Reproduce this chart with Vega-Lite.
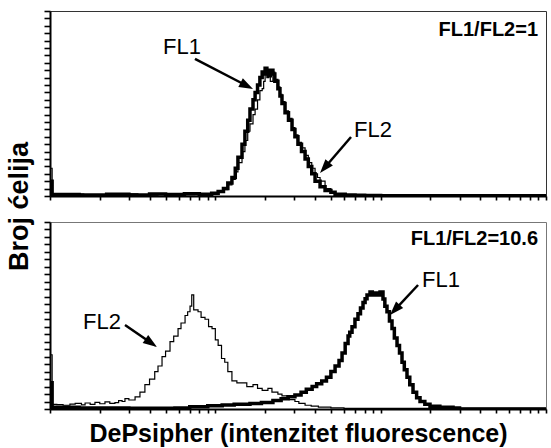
{
  "$schema": "https://vega.github.io/schema/vega-lite/v6.json",
  "padding": {"left": 5, "top": 9, "right": 0, "bottom": 0},
  "background": "white",
  "title": {"text": "Broj ćelija", "orient": "left", "anchor": "middle", "font": "Liberation Sans", "fontSize": 27, "fontWeight": "bold", "color": "black", "offset": 9, "dx": 22},
  "spacing": 18,
  "config": {
    "font": "Liberation Sans",
    "view": {"stroke": "#333", "strokeWidth": 1},
    "axis": {"labels": false, "grid": false, "domainColor": "black", "domainWidth": 2, "tickColor": "black", "tickWidth": 1.6, "titleColor": "black", "tickCount": 100}
  },
  "datasets": {
    "hist": [
      {"p":"top","s":"FL1","x":1.0,"n":8},{"p":"top","s":"FL1","x":1.03,"n":0.8},{"p":"top","s":"FL1","x":1.5,"n":0.5},{"p":"top","s":"FL1","x":2.2,"n":1.0},{"p":"top","s":"FL1","x":3,"n":0.6},{"p":"top","s":"FL1","x":4,"n":1.1},{"p":"top","s":"FL1","x":5,"n":0.8},{"p":"top","s":"FL1","x":6.5,"n":1.2},{"p":"top","s":"FL1","x":8,"n":0.9},{"p":"top","s":"FL1","x":9.5,"n":1.5},{"p":"top","s":"FL1","x":10.4,"n":2.5},{"p":"top","s":"FL1","x":11.2,"n":4},{"p":"top","s":"FL1","x":11.9,"n":7},{"p":"top","s":"FL1","x":12.6,"n":10},{"p":"top","s":"FL1","x":13.2,"n":15},{"p":"top","s":"FL1","x":13.7,"n":21},{"p":"top","s":"FL1","x":14.5,"n":28},{"p":"top","s":"FL1","x":15.1,"n":35},{"p":"top","s":"FL1","x":15.7,"n":41},{"p":"top","s":"FL1","x":16.2,"n":47},{"p":"top","s":"FL1","x":16.9,"n":52},{"p":"top","s":"FL1","x":17.4,"n":56},{"p":"top","s":"FL1","x":18.0,"n":60},{"p":"top","s":"FL1","x":18.6,"n":64},{"p":"top","s":"FL1","x":19.2,"n":67},{"p":"top","s":"FL1","x":19.6,"n":66},{"p":"top","s":"FL1","x":20.0,"n":69},{"p":"top","s":"FL1","x":20.5,"n":68},{"p":"top","s":"FL1","x":21.0,"n":65},{"p":"top","s":"FL1","x":21.5,"n":68},{"p":"top","s":"FL1","x":22.3,"n":66},{"p":"top","s":"FL1","x":22.9,"n":62},{"p":"top","s":"FL1","x":23.9,"n":58},{"p":"top","s":"FL1","x":24.6,"n":54},{"p":"top","s":"FL1","x":25.3,"n":50},{"p":"top","s":"FL1","x":26.4,"n":45},{"p":"top","s":"FL1","x":27.7,"n":41},{"p":"top","s":"FL1","x":29.1,"n":36},{"p":"top","s":"FL1","x":30.3,"n":32},{"p":"top","s":"FL1","x":31.6,"n":28},{"p":"top","s":"FL1","x":33.2,"n":24},{"p":"top","s":"FL1","x":34.9,"n":20},{"p":"top","s":"FL1","x":36.5,"n":16},{"p":"top","s":"FL1","x":38.3,"n":12},{"p":"top","s":"FL1","x":40.1,"n":8},{"p":"top","s":"FL1","x":43.0,"n":5},{"p":"top","s":"FL1","x":46.1,"n":3},{"p":"top","s":"FL1","x":50,"n":2},{"p":"top","s":"FL1","x":53,"n":1},{"p":"top","s":"FL1","x":61,"n":0.6},{"p":"top","s":"FL1","x":70,"n":0.4},{"p":"top","s":"FL1","x":80,"n":0.3},{"p":"top","s":"FL1","x":100,"n":0.2},{"p":"top","s":"FL1","x":1000,"n":0},
      {"p":"top","s":"FL2","x":1.0,"n":15},{"p":"top","s":"FL2","x":1.03,"n":1.0},{"p":"top","s":"FL2","x":1.6,"n":0.6},{"p":"top","s":"FL2","x":2.5,"n":1.1},{"p":"top","s":"FL2","x":3.4,"n":0.5},{"p":"top","s":"FL2","x":4.5,"n":1.2},{"p":"top","s":"FL2","x":6,"n":0.7},{"p":"top","s":"FL2","x":7.5,"n":1.3},{"p":"top","s":"FL2","x":9,"n":1.0},{"p":"top","s":"FL2","x":10.4,"n":2},{"p":"top","s":"FL2","x":11.2,"n":3.5},{"p":"top","s":"FL2","x":11.9,"n":6},{"p":"top","s":"FL2","x":12.6,"n":9},{"p":"top","s":"FL2","x":13.2,"n":13},{"p":"top","s":"FL2","x":13.7,"n":18},{"p":"top","s":"FL2","x":14.5,"n":24},{"p":"top","s":"FL2","x":15.1,"n":30},{"p":"top","s":"FL2","x":15.7,"n":35},{"p":"top","s":"FL2","x":16.2,"n":39},{"p":"top","s":"FL2","x":16.9,"n":44},{"p":"top","s":"FL2","x":17.4,"n":47},{"p":"top","s":"FL2","x":18.0,"n":52},{"p":"top","s":"FL2","x":18.6,"n":57},{"p":"top","s":"FL2","x":19.2,"n":58},{"p":"top","s":"FL2","x":19.6,"n":62},{"p":"top","s":"FL2","x":20.0,"n":67},{"p":"top","s":"FL2","x":20.5,"n":64},{"p":"top","s":"FL2","x":21.0,"n":68},{"p":"top","s":"FL2","x":21.5,"n":62},{"p":"top","s":"FL2","x":22.3,"n":67},{"p":"top","s":"FL2","x":22.9,"n":63},{"p":"top","s":"FL2","x":23.9,"n":59},{"p":"top","s":"FL2","x":24.6,"n":55},{"p":"top","s":"FL2","x":25.3,"n":51},{"p":"top","s":"FL2","x":26.4,"n":46},{"p":"top","s":"FL2","x":27.7,"n":42},{"p":"top","s":"FL2","x":29.1,"n":37},{"p":"top","s":"FL2","x":30.3,"n":33},{"p":"top","s":"FL2","x":31.6,"n":29},{"p":"top","s":"FL2","x":33.2,"n":26},{"p":"top","s":"FL2","x":34.9,"n":22},{"p":"top","s":"FL2","x":36.5,"n":18},{"p":"top","s":"FL2","x":38.3,"n":15},{"p":"top","s":"FL2","x":40.1,"n":12},{"p":"top","s":"FL2","x":41.5,"n":10},{"p":"top","s":"FL2","x":43.0,"n":8},{"p":"top","s":"FL2","x":46.1,"n":4},{"p":"top","s":"FL2","x":50,"n":2},{"p":"top","s":"FL2","x":53,"n":1},{"p":"top","s":"FL2","x":60,"n":0.5},{"p":"top","s":"FL2","x":1000,"n":0},
      {"p":"bottom","s":"FL2","x":1.0,"n":29},{"p":"bottom","s":"FL2","x":1.03,"n":2.5},{"p":"bottom","s":"FL2","x":1.1,"n":2.3},{"p":"bottom","s":"FL2","x":1.2,"n":2.0},{"p":"bottom","s":"FL2","x":1.32,"n":2.6},{"p":"bottom","s":"FL2","x":1.42,"n":3.0},{"p":"bottom","s":"FL2","x":1.55,"n":2.2},{"p":"bottom","s":"FL2","x":1.63,"n":3.2},{"p":"bottom","s":"FL2","x":1.75,"n":2.5},{"p":"bottom","s":"FL2","x":1.87,"n":3.5},{"p":"bottom","s":"FL2","x":2.0,"n":2.8},{"p":"bottom","s":"FL2","x":2.15,"n":3.8},{"p":"bottom","s":"FL2","x":2.3,"n":3.0},{"p":"bottom","s":"FL2","x":2.47,"n":3.4},{"p":"bottom","s":"FL2","x":2.6,"n":4.5},{"p":"bottom","s":"FL2","x":2.73,"n":4.0},{"p":"bottom","s":"FL2","x":2.84,"n":5.5},{"p":"bottom","s":"FL2","x":3.0,"n":4.8},{"p":"bottom","s":"FL2","x":3.27,"n":6.5},{"p":"bottom","s":"FL2","x":3.5,"n":9},{"p":"bottom","s":"FL2","x":3.75,"n":13},{"p":"bottom","s":"FL2","x":4.0,"n":16},{"p":"bottom","s":"FL2","x":4.3,"n":20},{"p":"bottom","s":"FL2","x":4.5,"n":23},{"p":"bottom","s":"FL2","x":4.76,"n":28},{"p":"bottom","s":"FL2","x":5.0,"n":31},{"p":"bottom","s":"FL2","x":5.32,"n":36},{"p":"bottom","s":"FL2","x":5.6,"n":39},{"p":"bottom","s":"FL2","x":5.95,"n":43},{"p":"bottom","s":"FL2","x":6.2,"n":46},{"p":"bottom","s":"FL2","x":6.56,"n":50},{"p":"bottom","s":"FL2","x":6.8,"n":52},{"p":"bottom","s":"FL2","x":7.03,"n":55},{"p":"bottom","s":"FL2","x":7.2,"n":61},{"p":"bottom","s":"FL2","x":7.4,"n":53},{"p":"bottom","s":"FL2","x":7.86,"n":52},{"p":"bottom","s":"FL2","x":8.2,"n":49},{"p":"bottom","s":"FL2","x":8.66,"n":48},{"p":"bottom","s":"FL2","x":9.1,"n":44},{"p":"bottom","s":"FL2","x":9.55,"n":43},{"p":"bottom","s":"FL2","x":10.0,"n":37},{"p":"bottom","s":"FL2","x":10.4,"n":34},{"p":"bottom","s":"FL2","x":10.9,"n":27},{"p":"bottom","s":"FL2","x":11.4,"n":25},{"p":"bottom","s":"FL2","x":11.9,"n":20},{"p":"bottom","s":"FL2","x":12.6,"n":15},{"p":"bottom","s":"FL2","x":13.5,"n":14},{"p":"bottom","s":"FL2","x":14.5,"n":14},{"p":"bottom","s":"FL2","x":15.5,"n":12},{"p":"bottom","s":"FL2","x":16.9,"n":13},{"p":"bottom","s":"FL2","x":18.0,"n":11},{"p":"bottom","s":"FL2","x":19.2,"n":10},{"p":"bottom","s":"FL2","x":20.8,"n":11},{"p":"bottom","s":"FL2","x":22,"n":9},{"p":"bottom","s":"FL2","x":23.9,"n":8},{"p":"bottom","s":"FL2","x":25.3,"n":7},{"p":"bottom","s":"FL2","x":26.4,"n":7},{"p":"bottom","s":"FL2","x":28,"n":5},{"p":"bottom","s":"FL2","x":30.3,"n":4},{"p":"bottom","s":"FL2","x":32,"n":3},{"p":"bottom","s":"FL2","x":34.9,"n":2},{"p":"bottom","s":"FL2","x":38,"n":1.5},{"p":"bottom","s":"FL2","x":42,"n":1},{"p":"bottom","s":"FL2","x":50,"n":0.6},{"p":"bottom","s":"FL2","x":60,"n":0.3},{"p":"bottom","s":"FL2","x":1000,"n":0},
      {"p":"bottom","s":"FL1","x":1.0,"n":14},{"p":"bottom","s":"FL1","x":1.03,"n":1.0},{"p":"bottom","s":"FL1","x":1.5,"n":0.5},{"p":"bottom","s":"FL1","x":3,"n":0.4},{"p":"bottom","s":"FL1","x":5.7,"n":0.5},{"p":"bottom","s":"FL1","x":7,"n":1.2},{"p":"bottom","s":"FL1","x":9,"n":1.8},{"p":"bottom","s":"FL1","x":11,"n":2.2},{"p":"bottom","s":"FL1","x":13,"n":2.6},{"p":"bottom","s":"FL1","x":16.2,"n":3.0},{"p":"bottom","s":"FL1","x":19,"n":3.5},{"p":"bottom","s":"FL1","x":22.3,"n":4.5},{"p":"bottom","s":"FL1","x":25,"n":5.5},{"p":"bottom","s":"FL1","x":27.5,"n":6.5},{"p":"bottom","s":"FL1","x":30.3,"n":7.5},{"p":"bottom","s":"FL1","x":33,"n":9},{"p":"bottom","s":"FL1","x":35.5,"n":10.5},{"p":"bottom","s":"FL1","x":38.5,"n":12},{"p":"bottom","s":"FL1","x":41,"n":13.5},{"p":"bottom","s":"FL1","x":44,"n":15},{"p":"bottom","s":"FL1","x":47,"n":17},{"p":"bottom","s":"FL1","x":50,"n":20},{"p":"bottom","s":"FL1","x":53,"n":23},{"p":"bottom","s":"FL1","x":56,"n":26},{"p":"bottom","s":"FL1","x":58.4,"n":30},{"p":"bottom","s":"FL1","x":61,"n":35},{"p":"bottom","s":"FL1","x":63.5,"n":39},{"p":"bottom","s":"FL1","x":65,"n":41},{"p":"bottom","s":"FL1","x":67.1,"n":44},{"p":"bottom","s":"FL1","x":69.9,"n":48},{"p":"bottom","s":"FL1","x":72.9,"n":51},{"p":"bottom","s":"FL1","x":75.5,"n":54},{"p":"bottom","s":"FL1","x":78.2,"n":57},{"p":"bottom","s":"FL1","x":80.5,"n":59},{"p":"bottom","s":"FL1","x":82.7,"n":61},{"p":"bottom","s":"FL1","x":86.2,"n":62.6},{"p":"bottom","s":"FL1","x":89,"n":61},{"p":"bottom","s":"FL1","x":92.4,"n":62},{"p":"bottom","s":"FL1","x":96,"n":61},{"p":"bottom","s":"FL1","x":99.1,"n":62.6},{"p":"bottom","s":"FL1","x":103.3,"n":58.8},{"p":"bottom","s":"FL1","x":106,"n":55},{"p":"bottom","s":"FL1","x":109.2,"n":52},{"p":"bottom","s":"FL1","x":113,"n":47},{"p":"bottom","s":"FL1","x":117.1,"n":43},{"p":"bottom","s":"FL1","x":121,"n":38},{"p":"bottom","s":"FL1","x":125.6,"n":34},{"p":"bottom","s":"FL1","x":130,"n":30},{"p":"bottom","s":"FL1","x":134.6,"n":25},{"p":"bottom","s":"FL1","x":139,"n":21},{"p":"bottom","s":"FL1","x":144.3,"n":17},{"p":"bottom","s":"FL1","x":150,"n":13},{"p":"bottom","s":"FL1","x":156.9,"n":9},{"p":"bottom","s":"FL1","x":165,"n":6},{"p":"bottom","s":"FL1","x":173,"n":4},{"p":"bottom","s":"FL1","x":185,"n":2.5},{"p":"bottom","s":"FL1","x":198.8,"n":1.5},{"p":"bottom","s":"FL1","x":228,"n":1},{"p":"bottom","s":"FL1","x":274,"n":0.6},{"p":"bottom","s":"FL1","x":300,"n":0},{"p":"bottom","s":"FL1","x":1000,"n":0}
    ],
    "labels": [
      {"p":"top","t":"FL1","x":6.29,"n":80.5},
      {"p":"top","t":"FL2","x":89.9,"n":35.7},
      {"p":"bottom","t":"FL1","x":231.7,"n":69.0},
      {"p":"bottom","t":"FL2","x":2.063,"n":46.5}
    ],
    "ratios": [
      {"p":"top","t":"FL1/FL2=1","x":895,"n":89.7},
      {"p":"bottom","t":"FL1/FL2=10.6","x":895,"n":90.9}
    ],
    "arrows": [
      {"p":"top","x":7.53,"n":74.1,"x2":15.5,"n2":59.6,"a":117.3},
      {"p":"top","x":66.17,"n":31.9,"x2":45.8,"n2":15.3,"a":220.7},
      {"p":"bottom","x":168.3,"n":66.3,"x2":121.8,"n2":53.0,"a":223},
      {"p":"bottom","x":2.842,"n":44.9,"x2":4.094,"n2":35.3,"a":124.5}
    ]
  },
  "vconcat": [
    {
      "width": 496,
      "height": 185,
      "layer": [
        {
          "data": {"name": "hist"},
          "transform": [{"filter": "datum.p === 'top'"}],
          "mark": {"type": "line", "interpolate": "step-after", "color": "black", "clip": true},
          "encoding": {
            "x": {"field": "x", "type": "quantitative", "scale": {"type": "log", "domain": [1, 1000], "nice": false},
                  "axis": {"title": null, "tickSize": 4, "tickCount": 100, "values": [1,2,3,4,5,6,7,8,9,10,20,30,40,50,60,70,80,90,100,200,300,400,500,600,700,800,900,1000],
                           "encode": {"ticks": {"update": {"y2": [{"test": "indexof([1,10,100,1000], datum.value) >= 0", "value": 8}, {"value": 4}]}}}}},
            "y": {"field": "n", "type": "quantitative", "scale": {"domain": [0, 100], "nice": false},
                  "axis": {"title": null, "tickSize": 6, "tickCount": 100, "values": [0,4,8,12,16,20,24,28,32,36,40,44,48,52,56,60,64,68,72,76,80,84,88,92,96,100],
                           "encode": {"ticks": {"update": {"x2": [{"test": "datum.value % 20 === 0", "value": -11}, {"value": -6}]}}}}},
            "detail": {"field": "s"},
            "strokeWidth": {"field": "s", "type": "nominal", "scale": {"domain": ["FL1", "FL2"], "range": [3.5, 1.2]}, "legend": null},
            "order": {"field": "x", "type": "quantitative"}
          }
        },
        {
          "data": {"name": "arrows"},
          "transform": [{"filter": "datum.p === 'top'"}],
          "mark": {"type": "rule", "color": "black", "strokeWidth": 2.5},
          "encoding": {
            "x": {"field": "x", "type": "quantitative"}, "y": {"field": "n", "type": "quantitative"},
            "x2": {"field": "x2"}, "y2": {"field": "n2"}
          }
        },
        {
          "data": {"name": "arrows"},
          "transform": [{"filter": "datum.p === 'top'"}],
          "mark": {"type": "point", "shape": "M0,-1L-0.7,1L0.7,1Z", "filled": true, "color": "black", "size": 196, "opacity": 1},
          "encoding": {
            "x": {"field": "x2", "type": "quantitative"}, "y": {"field": "n2", "type": "quantitative"},
            "angle": {"field": "a", "type": "quantitative", "scale": null}
          }
        },
        {
          "data": {"name": "labels"},
          "transform": [{"filter": "datum.p === 'top'"}],
          "mark": {"type": "text", "font": "Liberation Sans", "fontSize": 22, "color": "black", "align": "center", "baseline": "middle"},
          "encoding": {"x": {"field": "x", "type": "quantitative"}, "y": {"field": "n", "type": "quantitative"}, "text": {"field": "t"}}
        },
        {
          "data": {"name": "ratios"},
          "transform": [{"filter": "datum.p === 'top'"}],
          "mark": {"type": "text", "font": "Liberation Sans", "fontSize": 20, "fontWeight": "bold", "color": "black", "align": "right", "baseline": "middle"},
          "encoding": {"x": {"field": "x", "type": "quantitative"}, "y": {"field": "n", "type": "quantitative"}, "text": {"field": "t"}}
        }
      ]
    },
    {
      "width": 496,
      "height": 187,
      "view": {"stroke": "#777"},
      "layer": [
        {
          "data": {"name": "hist"},
          "transform": [{"filter": "datum.p === 'bottom'"}],
          "mark": {"type": "line", "interpolate": "step-after", "color": "black", "clip": true},
          "encoding": {
            "x": {"field": "x", "type": "quantitative", "scale": {"type": "log", "domain": [1, 1000], "nice": false},
                  "axis": {"title": "DePsipher (intenzitet fluorescence)", "titleFont": "Liberation Sans", "titleFontSize": 25, "titleFontWeight": "bold", "titlePadding": 8,
                           "tickSize": 4, "tickCount": 100, "values": [1,2,3,4,5,6,7,8,9,10,20,30,40,50,60,70,80,90,100,200,300,400,500,600,700,800,900,1000],
                           "encode": {"ticks": {"update": {"y2": [{"test": "indexof([1,10,100,1000], datum.value) >= 0", "value": 8}, {"value": 4}]}}}}},
            "y": {"field": "n", "type": "quantitative", "scale": {"domain": [0, 100], "nice": false},
                  "axis": {"title": null, "tickSize": 6, "tickCount": 100, "values": [0,4,8,12,16,20,24,28,32,36,40,44,48,52,56,60,64,68,72,76,80,84,88,92,96,100],
                           "encode": {"ticks": {"update": {"x2": [{"test": "datum.value % 20 === 0", "value": -11}, {"value": -6}]}}}}},
            "detail": {"field": "s"},
            "strokeWidth": {"field": "s", "type": "nominal", "scale": {"domain": ["FL1", "FL2"], "range": [3.5, 1.2]}, "legend": null},
            "order": {"field": "x", "type": "quantitative"}
          }
        },
        {
          "data": {"name": "arrows"},
          "transform": [{"filter": "datum.p === 'bottom'"}],
          "mark": {"type": "rule", "color": "black", "strokeWidth": 2.5},
          "encoding": {
            "x": {"field": "x", "type": "quantitative"}, "y": {"field": "n", "type": "quantitative"},
            "x2": {"field": "x2"}, "y2": {"field": "n2"}
          }
        },
        {
          "data": {"name": "arrows"},
          "transform": [{"filter": "datum.p === 'bottom'"}],
          "mark": {"type": "point", "shape": "M0,-1L-0.7,1L0.7,1Z", "filled": true, "color": "black", "size": 196, "opacity": 1},
          "encoding": {
            "x": {"field": "x2", "type": "quantitative"}, "y": {"field": "n2", "type": "quantitative"},
            "angle": {"field": "a", "type": "quantitative", "scale": null}
          }
        },
        {
          "data": {"name": "labels"},
          "transform": [{"filter": "datum.p === 'bottom'"}],
          "mark": {"type": "text", "font": "Liberation Sans", "fontSize": 22, "color": "black", "align": "center", "baseline": "middle"},
          "encoding": {"x": {"field": "x", "type": "quantitative"}, "y": {"field": "n", "type": "quantitative"}, "text": {"field": "t"}}
        },
        {
          "data": {"name": "ratios"},
          "transform": [{"filter": "datum.p === 'bottom'"}],
          "mark": {"type": "text", "font": "Liberation Sans", "fontSize": 20, "fontWeight": "bold", "color": "black", "align": "right", "baseline": "middle"},
          "encoding": {"x": {"field": "x", "type": "quantitative"}, "y": {"field": "n", "type": "quantitative"}, "text": {"field": "t"}}
        }
      ]
    }
  ]
}
